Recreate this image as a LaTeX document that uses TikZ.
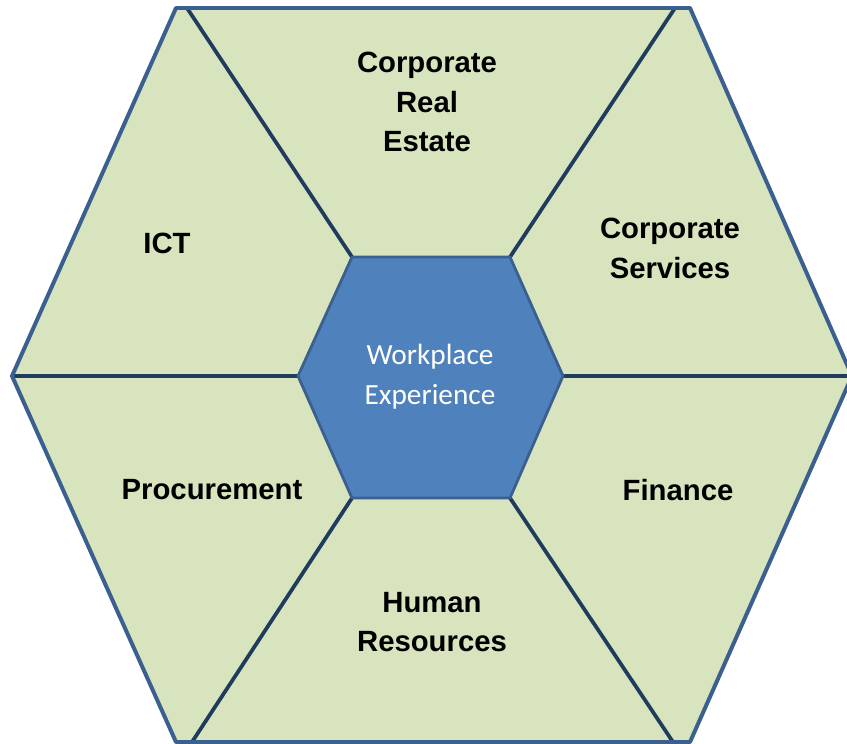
\documentclass[tikz,border=0pt]{standalone}
\usepackage{fontspec}
\setmainfont{Liberation Sans}
\newfontfamily\hubfont{Carlito}
\definecolor{panelgreen}{HTML}{D7E4BD}
\definecolor{rimblue}{HTML}{3B6090}
\definecolor{spokeblue}{HTML}{1F3B5E}
\definecolor{hubblue}{HTML}{4F81BD}

\begin{document}
\begin{tikzpicture}[x=0.03cm,y=-0.03cm,line join=round,
  area label/.style={font=\fontsize{25}{34}\selectfont\bfseries, align=center, inner sep=0pt},
  hub label/.style={font=\hubfont\fontsize{25}{34}\selectfont, text=white, align=center, inner sep=0pt},
  spoke/.style={draw=spokeblue, line width=3.2pt},
  rim/.style={draw=rimblue, line width=3.4pt}]

  \useasboundingbox (0,0) rectangle (847,743);

  % outer hexagon
  \coordinate (OTL) at (176,8);
  \coordinate (OTR) at (690,8);
  \coordinate (OR) at (852,376);
  \coordinate (OBR) at (690,742);
  \coordinate (OBL) at (176,742);
  \coordinate (OL) at (12,376);

  % inner hexagon
  \coordinate (ITL) at (352,257);
  \coordinate (ITR) at (510,257);
  \coordinate (IR) at (563,376);
  \coordinate (IBR) at (510,498);
  \coordinate (IBL) at (352,498);
  \coordinate (IL) at (298,376);

  % ends of the spokes on the rim
  \coordinate (STL) at (187,8);
  \coordinate (STR) at (675,8);
  \coordinate (SR) at (852,376);
  \coordinate (SBR) at (673,742);
  \coordinate (SBL) at (192,742);
  \coordinate (SL) at (12,376);

  \fill[panelgreen] (OTL) -- (OTR) -- (OR) -- (OBR) -- (OBL) -- (OL) -- cycle;

  \draw[spoke] (ITL) -- (STL);
  \draw[spoke] (ITR) -- (STR);
  \draw[spoke] (IR) -- (SR);
  \draw[spoke] (IBR) -- (SBR);
  \draw[spoke] (IBL) -- (SBL);
  \draw[spoke] (IL) -- (SL);

  \draw[rim] (OTL) -- (OTR) -- (OR) -- (OBR) -- (OBL) -- (OL) -- cycle;

  \draw[fill=hubblue, draw=rimblue, line width=2.4pt]
    (ITL) -- (ITR) -- (IR) -- (IBR) -- (IBL) -- (IL) -- cycle;

  \node[hub label] (hub) at (430,377) {Workplace\\Experience};

  \node[area label] (cre) at (427,102) {Corporate\\Real\\Estate};
  \node[area label] (cs) at (670,248) {Corporate\\Services};
  \node[area label] (ict) at (167,243) {ICT};
  \node[area label] (proc) at (212,490) {Procurement};
  \node[area label] (fin) at (678,490) {Finance};
  \node[area label] (hr) at (432,622) {Human\\Resources};
\end{tikzpicture}
\end{document}
